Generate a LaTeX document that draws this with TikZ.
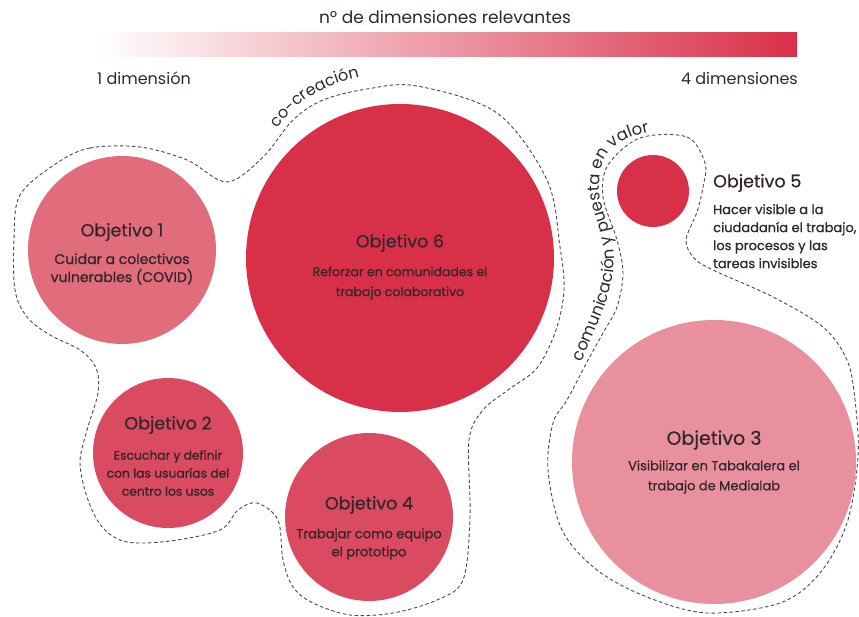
\documentclass[tikz,border=0pt]{standalone}
\usepackage{fontspec}
\setmainfont{Poppins}
\newfontfamily\medio{Poppins}[FakeBold=0.5]
\newfontfamily\grueso{Poppins}[FakeBold=0.9]
\usetikzlibrary{positioning,calc,decorations.text}
\definecolor{ObjRosa}{HTML}{E06C7C}
\definecolor{ObjRojo}{HTML}{D93049}
\definecolor{ObjMedio}{HTML}{DA4A60}
\definecolor{ObjClaro}{HTML}{E8909D}
\definecolor{ObjTexto}{HTML}{33262A}
\definecolor{ObjLinea}{HTML}{4A4A4A}

\tikzset{
  bubble/.style={circle, inner sep=0pt, outer sep=0pt},
  titulo/.style={text=ObjTexto, inner sep=0pt, font=\medio\fontsize{17.5}{20}\selectfont},
  texto/.style={text=ObjTexto, inner sep=0pt, align=center, font=\grueso\fontsize{13}{18}\selectfont},
  contorno/.style={ObjLinea, line width=0.9pt, dash pattern=on 3.5pt off 2.5pt},
  escala/.style={text=ObjTexto, inner sep=0pt, font=\fontsize{16}{18}\selectfont}
}

\begin{document}
\begin{tikzpicture}[x=1pt,y=1pt]
        \path[use as bounding box, fill=white] (0,0) rectangle (859,-617);

        % Scale bar
        \shade[left color=white, right color=ObjRojo] (97,-33) rectangle (797,-57);
        \node[escala, font=\fontsize{17}{19}\selectfont] (barra) at (445,-17) {nº de dimensiones relevantes};
        \node[escala, anchor=west] (min) at (97,-78) {1 dimensión};
        \node[escala, anchor=east] (max) at (798,-78) {4 dimensiones};

        % Outlines
        \draw[contorno] plot[smooth cycle, tension=0.55] coordinates {
          (57,-163) (90,-148) (140,-147) (187,-160) (227,-182) (263,-157)
          (293,-120) (323,-100) (367,-89) (417,-86) (497,-113) (547,-180)
          (560,-247) (564,-290) (556,-330) (537,-368) (508,-390) (483,-410)
          (469,-440) (470,-517) (463,-580) (437,-600) (393,-613) (350,-615)
          (313,-603) (293,-587) (283,-560) (278,-520) (257,-503) (238,-510)
          (220,-530) (170,-541) (127,-542) (103,-528) (88,-500) (80,-463)
          (87,-430) (98,-393) (96,-368) (80,-350) (50,-335) (27,-317)
          (15,-290) (14,-240) (20,-195)};
        \draw[contorno] plot[smooth cycle, tension=0.55] coordinates {
          (640,-138) (687,-137) (705,-163) (703,-187) (697,-212) (686,-240)
          (694,-258) (713,-270) (773,-297) (823,-327) (847,-360) (855,-400)
          (858,-457) (847,-523) (820,-573) (780,-603) (707,-613) (647,-597)
          (597,-570) (562,-530) (548,-470) (553,-423) (567,-400) (587,-362)
          (603,-333) (617,-307) (623,-273) (617,-240) (603,-197) (608,-165)};

        % Outline labels
        \path[decorate, decoration={text along path, text align=center,
          text={|\fontsize{16}{18}\selectfont\color{ObjTexto}|co-creación}}]
          (268,-146) .. controls (287,-105) and (322,-81) .. (379,-74);
        \path[decorate, decoration={text along path, text align=center,
          text={|\fontsize{16.5}{19}\selectfont\color{ObjTexto}|comunicación y puesta en valor}}]
          plot[smooth, tension=0.6] coordinates {(566,-400) (580,-365) (596,-328)
          (610,-290) (614,-256) (608,-225) (600,-195) (602,-166) (616,-145) (640,-134) (668,-129) (690,-127)};

        % Objetivos
        \node[bubble, fill=ObjRosa, minimum size=188pt] (obj1) at (122,-250) {};
        \node[titulo] (obj1t) at ([yshift=18]obj1.center) {Objetivo 1};
        \node[texto, font=\grueso\fontsize{14}{18}\selectfont] (obj1d) at ([yshift=-19]obj1.center) {Cuidar a colectivos\\vulnerables (COVID)};

        \node[bubble, fill=ObjRojo, minimum size=308pt] (obj6) at (400,-258) {};
        \node[titulo] (obj6t) at ([yshift=15]obj6.center) {Objetivo 6};
        \node[texto, font=\medio\fontsize{12.5}{20}\selectfont] (obj6d) at ([yshift=-25]obj6.center) {Reforzar en comunidades el\\trabajo colaborativo};

        \node[bubble, fill=ObjMedio, minimum size=150pt] (obj2) at (168,-453) {};
        \node[titulo] (obj2t) at ([yshift=28]obj2.center) {Objetivo 2};
        \node[texto, font=\grueso\fontsize{12.3}{18}\selectfont] (obj2d) at ([yshift=-20]obj2.center) {Escuchar y definir\\con las usuarías del\\centro los usos};

        \node[bubble, fill=ObjMedio, minimum size=168pt] (obj4) at (369,-517) {};
        \node[titulo] (obj4t) at ([yshift=12]obj4.center) {Objetivo 4};
        \node[texto] (obj4d) at ([yshift=-27]obj4.center) {Trabajar como equipo\\el prototipo};

        \node[bubble, fill=ObjClaro, minimum size=284pt] (obj3) at (714,-462) {};
        \node[titulo, font=\medio\fontsize{19}{21}\selectfont] (obj3t) at ([yshift=22]obj3.center) {Objetivo 3};
        \node[texto, font=\medio\fontsize{13}{20}\selectfont] (obj3d) at ([yshift=-15]obj3.center) {Visibilizar en Tabakalera el\\trabajo de Medialab};

        \node[bubble, fill=ObjRojo, minimum size=72pt] (obj5) at (653,-191) {};
        \node[titulo, anchor=west] (obj5t) at (713,-183) {Objetivo 5};
        \node[texto, align=left, anchor=north west] (obj5d) at (713,-204) {Hacer visible a la\\ciudadanía el trabajo,\\los procesos y las\\tareas invisibles};
      \end{tikzpicture}
\end{document}
